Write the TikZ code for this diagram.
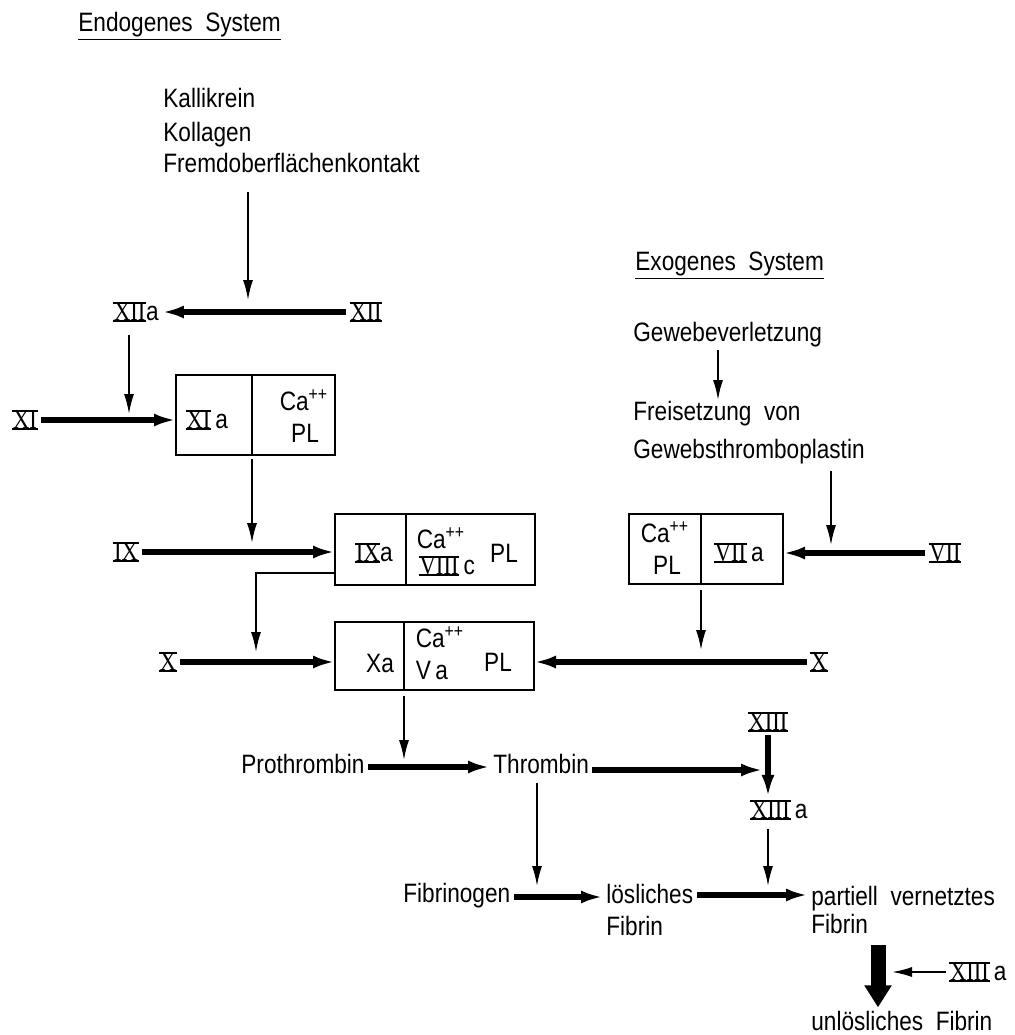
\documentclass[tikz,border=0pt]{standalone}
\usepackage{fontspec}
\setmainfont{Liberation Sans}[FakeStretch=0.85]
\newfontfamily\romfont{Liberation Serif}[FakeStretch=0.85]
\usetikzlibrary{arrows.meta}

% roman numeral with bars on top and bottom
\newcommand{\roem}[1]{\leavevmode\setbox0=\hbox{\romfont\kern0.3pt#1\kern0.3pt}%
	\rlap{\rule[-0.5pt]{\wd0}{0.9pt}}%
	\rlap{\rule[\dimexpr\ht0-0.4pt\relax]{\wd0}{0.9pt}}\box0}

\begin{document}
\begin{tikzpicture}[x=0.5pt,y=-0.5pt,
	font=\fontsize{13.3}{16}\selectfont,
	every node/.style={inner sep=1.5pt},
	cell/.style={draw,line width=0.9pt,inner sep=0pt,outer sep=0pt},
	fat/.style={line width=2.6pt,-{Latex[length=11pt,width=6.5pt]}},
	slim/.style={line width=0.9pt,-{Latex[length=10pt,width=5pt]}},
	huge/.style={line width=7.5pt,-{Triangle[length=11pt,width=13pt]}}]
	\useasboundingbox (0,0) rectangle (1014,1035);

	% endogenous side
	\node[anchor=base west] (endo)  at (75,31)   {\underline{Endogenes\ \ System}};
	\node[anchor=base west] (kalli) at (160,107) {Kallikrein};
	\node[anchor=base west] (kolla) at (160,141) {Kollagen};
	\node[anchor=base west] (fremd) at (160,172) {Fremdoberflächenkontakt};
	\node (xii)  at (366,312) {\roem{XII}};
	\node (xiia) at (136,312) {\roem{XII}a};
	\node (xi)   at (25,420)  {\roem{XI}};
	\node (ix)   at (126,552) {\roem{IX}};
	\node (xl)   at (168,662) {\roem{X}};

	% boxes
	\node[cell,minimum width=38pt,minimum height=40pt] (b1l) at (214,415) {};
	\node[cell,minimum width=41.5pt,minimum height=40pt,anchor=west] (b1r) at (b1l.east) {};
	\node (xia) at (207,420) {\roem{XI}\,a};
	\node (ca1) at (304,400) {Ca\textsuperscript{++}};
	\node (pl1) at (305,433) {PL};

	\node[cell,minimum width=35.5pt,minimum height=35.5pt] (b2l) at (370.5,549.5) {};
	\node[cell,minimum width=64.5pt,minimum height=35.5pt,anchor=west] (b2r) at (b2l.east) {};
	\node (ixa)   at (374,553) {\roem{IX}a};
	\node (ca2)   at (441,538) {Ca\textsuperscript{++}};
	\node (viiic) at (447,566) {\roem{VIII}\,c};
	\node (pl2)   at (504,553) {PL};

	\node[cell,minimum width=34.5pt,minimum height=34pt] (b3l) at (369.5,656) {};
	\node[cell,minimum width=65pt,minimum height=34pt,anchor=west] (b3r) at (b3l.east) {};
	\node (xa)  at (380,663) {Xa};
	\node (ca3) at (440,637) {Ca\textsuperscript{++}};
	\node (va)  at (432,670) {V\,a};
	\node (pl3) at (498,662) {PL};

	\node[cell,minimum width=36pt,minimum height=35pt] (b4l) at (665,549) {};
	\node[cell,minimum width=41pt,minimum height=35pt,anchor=west] (b4r) at (b4l.east) {};
	\node (ca4)  at (665,532) {Ca\textsuperscript{++}};
	\node (pl4)  at (667,565) {PL};
	\node (viia) at (739,553) {\roem{VII}\,a};

	% exogenous side
	\node[anchor=base west] (exo)   at (632,270) {\underline{Exogenes\ \ System}};
	\node[anchor=base west] (gewv)  at (630,341) {Gewebeverletzung};
	\node[anchor=base west] (freis) at (630,420) {Freisetzung\ \ von};
	\node[anchor=base west] (gewt)  at (630,458) {Gewebsthromboplastin};
	\node (vii) at (945,553) {\roem{VII}};
	\node (xr)  at (819,662) {\roem{X}};

	% common path
	\node[anchor=base west] (prothr)  at (238,773)  {Prothrombin};
	\node[anchor=base west] (thromb)  at (490,773)  {Thrombin};
	\node (xiii)  at (768,722) {\roem{XIII}};
	\node (xiiia) at (779,810) {\roem{XIII}\,a};
	\node[anchor=base west] (fibg)    at (400,902)  {Fibrinogen};
	\node[anchor=base west] (loesl)   at (603,903)  {lösliches};
	\node[anchor=base west] (fibrin1) at (603,935)  {Fibrin};
	\node[anchor=base west] (partv)   at (808,905)  {partiell\ \ vernetztes};
	\node[anchor=base west] (fibrin2) at (808,933)  {Fibrin};
	\node (xiiia2) at (978,972) {\roem{XIII}\,a};
	\node[anchor=base west] (unl)     at (808,1030) {unlösliches\ \ Fibrin};

	\coordinate (j0) at (248,300);
	\coordinate (j1) at (129,414);
	\coordinate (j2) at (252,543);
	\coordinate (j3) at (256,652);
	\coordinate (j4) at (718,400);
	\coordinate (j5) at (831,545);
	\coordinate (j6) at (701,650);
	\coordinate (j7) at (404,760);
	\coordinate (j8) at (537,886);
	\coordinate (j9) at (768,886);
	\coordinate (bx) at (878,943);

	\draw[slim,shorten <=8pt] (fremd.south -| j0) -- (j0);
	\draw[fat] (xii) -- (xiia);
	\draw[slim,shorten <=5pt] (xiia.south -| j1) -- (j1);
	\draw[fat] (xi) -- (xi -| b1l.west);
	\draw[slim,shorten <=2pt] (b1l.south east) -- (j2);
	\draw[fat] (ix) -- (ix -| b2l.west);
	\draw[slim] ([yshift=6pt]b2l.south west) -| (j3);
	\draw[fat] (xl) -- (xl -| b3l.west);

	\draw[slim] (gewv.south -| j4) -- (j4);
	\draw[slim,shorten <=2pt] (gewt.south -| j5) -- (j5);
	\draw[fat] (vii) -- (vii -| b4r.east);
	\draw[slim,shorten <=3pt] (b4l.south east) -- (j6);
	\draw[fat] (xr) -- (xr -| b3r.east);
	\draw[slim,shorten <=3pt] (b3l.south east) -- (j7);

	\draw[fat] ([yshift=3pt]prothr.base east) -- ([yshift=3pt]thromb.base west);
	\draw[fat,shorten >=2.5pt] ([yshift=1.5pt]thromb.base east) -- ([yshift=1.5pt]thromb.base east -| xiii);
	\draw[fat] (xiii) -- (xiii |- xiiia.north);
	\draw[slim,shorten <=3pt] (thromb.south -| j8) -- (j8);
	\draw[slim,shorten <=3pt] (xiiia.south -| j9) -- (j9);
	\draw[fat] ([yshift=2.5pt]fibg.base east) -- ([yshift=2.5pt]fibg.base east -| loesl.west);
	\draw[fat] ([yshift=4pt]loesl.base east) -- ([yshift=4pt]loesl.base east -| partv.west);
	\draw[huge,shorten <=4pt] (fibrin2.south -| bx) -- (unl.north -| bx);
	\draw[slim,shorten >=7pt] (xiiia2) -- (xiiia2 -| bx);
\end{tikzpicture}
\end{document}
